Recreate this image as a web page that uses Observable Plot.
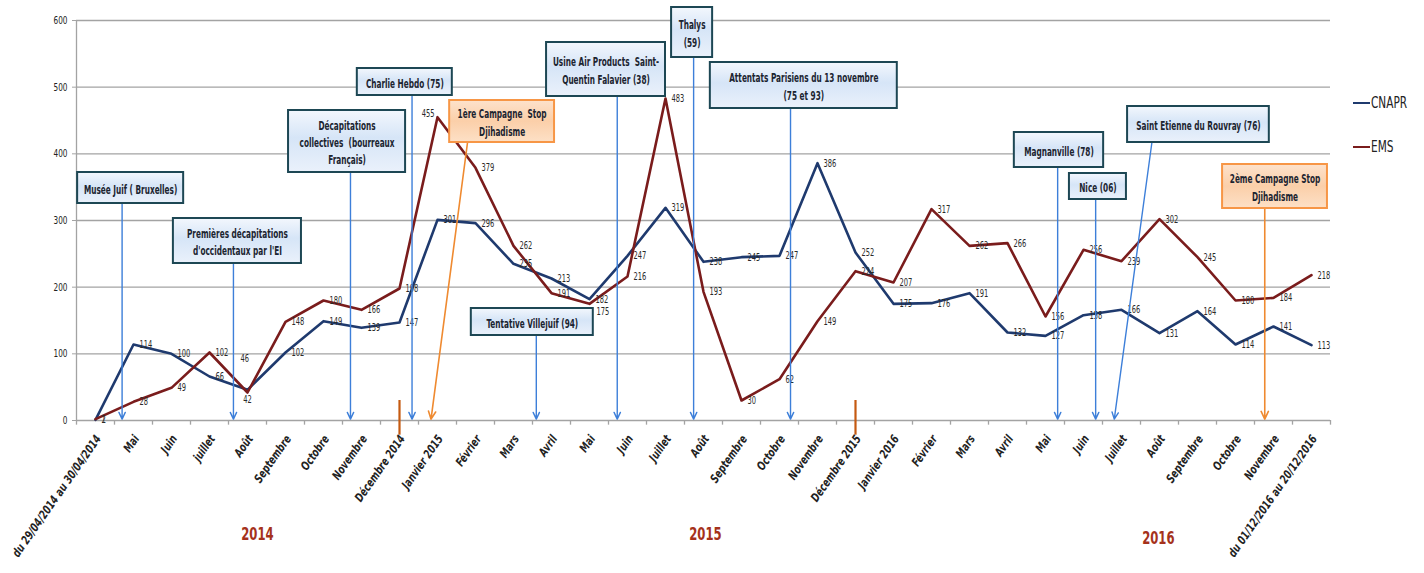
<!DOCTYPE html>
<html><head><meta charset="utf-8">
<script src="https://cdn.jsdelivr.net/npm/d3@7"></script>
<script src="https://cdn.jsdelivr.net/npm/@observablehq/plot@0.6"></script>
<style>
body{margin:0;background:#fff;}
#wrap{position:relative;width:1424px;height:573px;overflow:hidden;}
.lg{position:absolute;left:1353px;font-family:"Liberation Sans Narrow","DejaVu Sans Condensed","Arial Narrow",sans-serif;font-size:15px;color:#222;display:flex;align-items:center;}
.lg i{display:inline-block;width:17px;height:2.5px;margin-right:1px;}
.lg span{display:inline-block;transform:scaleX(0.78);transform-origin:left center;}
</style></head><body><div id="wrap"></div>
<script>
const categories = ["du 29/04/2014 au 30/04/2014","Mai","Juin","juillet","Août","Septembre","Octobre","Novembre","Décembre 2014","Janvier 2015","Février","Mars","Avril","Mai","Juin","Juillet","Août","Septembre","Octobre","Novembre","Décembre 2015","Janvier 2016","Février","Mars","Avril","Mai","Juin","Juillet","Août","Septembre","Octobre","Novembre","du 01/12/2016 au 20/12/2016"];
const cnapr = [1,114,100,66,46,102,149,139,147,301,296,235,213,182,247,319,238,245,247,386,252,175,176,191,132,127,158,166,131,164,114,141,113];
const ems   = [2,28,49,102,42,148,180,166,198,455,379,262,191,175,216,483,193,30,62,149,224,207,317,262,266,156,256,239,302,245,180,184,218];
const seriesNames = ["CNAPR","EMS"];
const seriesColors = ["#1f3a6e","#7a1c1c"];
const yTicks = [0,100,200,300,400,500,600];
const years = ["2014","2015","2016"];
const yearAt = [4.26,16.05,27.97];
const yearLevel = [-170,-170,-176];
const yearBreaks = [8,20];

// événements annotés
const eventLabels = [
 "Musée Juif ( Bruxelles)",
 "Premières décapitations\nd'occidentaux par l'EI",
 "Décapitations\ncollectives  (bourreaux\nFrançais)",
 "Charlie Hebdo (75)",
 "1ère Campagne  Stop\nDjihadisme",
 "Tentative Villejuif (94)",
 "Usine Air Products  Saint-\nQuentin Falavier (38)",
 "Thalys\n(59)",
 "Attentats Parisiens du 13 novembre\n(75 et 93)",
 "Magnanville (78)",
 "Nice (06)",
 "Saint Etienne du Rouvray (76)",
 "2ème Campagne Stop\nDjihadisme"
];
const eventKind = ["attack","attack","attack","attack","campaign","attack","attack","attack","attack","attack","attack","attack","campaign"];
const eventWhen = [0.7,3.63,6.71,8.33,8.83,11.6,13.73,15.74,18.29,25.32,26.32,26.81,30.77];
const arrowFrom = [0.7,3.63,6.71,8.33,9.79,11.6,13.73,15.74,18.29,25.32,26.32,27.8,30.77];
const boxLeft  = [-0.47,2.05,5.08,6.89,9.32,9.89,11.87,15.16,16.18,24.18,25.63,27.16,29.66];
const boxRight = [2.32,5.42,8.16,9.39,12.08,13.1,15.0,16.24,21.1,26.53,27.13,30.89,32.42];
const boxTop    = [372,303,465,528,480,168,567,619.5,537,432,370.5,471,384];
const boxBottom = [325.5,235.5,372,487.5,417,127.5,486,544.5,468,379.5,331.5,417,318];

const FONT = '"Liberation Sans Narrow","DejaVu Sans Condensed","Arial Narrow",sans-serif';

const rows = categories.map((c,i)=>({i, cat:c}));
const long = [];
seriesNames.forEach((s,k)=>{
  const vals = k===0 ? cnapr : ems;
  vals.forEach((v,i)=>long.push({series:s, i, value:v}));
});
const events = eventLabels.map((t,j)=>({
  text:t, kind:eventKind[j], at:eventWhen[j], from:arrowFrom[j],
  x1:boxLeft[j], x2:boxRight[j], top:boxTop[j], bottom:boxBottom[j],
  cx:(boxLeft[j]+boxRight[j])/2, cy:(boxTop[j]+boxBottom[j])/2
}));
const yearRows = years.map((y,j)=>({y, at:yearAt[j], lvl:yearLevel[j]}));

// label nudges (style only)
const nudges = {
  "EMS:9": {dx:-3, dy:-4, anchor:"end"},
  "CNAPR:4": {dx:-7, dy:-31, anchor:"start"},
  "EMS:4": {dx:0, dy:7, anchor:"middle"},
  "EMS:13": {dx:7, dy:8, anchor:"start"}
};
const key = d => d.series+":"+d.i;
const plain = long.filter(d=>!nudges[key(d)]);
const special = long.filter(d=>nudges[key(d)]);

const attacks = events.filter(e=>e.kind==="attack");
const campaigns = events.filter(e=>e.kind==="campaign");

const chart = Plot.plot({
  width:1424, height:573,
  marginLeft:76, marginRight:94, marginTop:20, marginBottom:153,
  x:{type:"linear", domain:[-0.5,32.5], axis:null},
  y:{domain:[0,600], axis:null},
  color:{domain:seriesNames, range:seriesColors},
  style:{fontFamily:FONT, background:"white", overflow:"visible"},
  marks:[
    Plot.ruleY(yTicks, {stroke:"#a3a3a3", strokeWidth:1.3}),
    Plot.ruleX([-0.5], {stroke:"#a3a3a3", strokeWidth:1.3}),
    Plot.axisY({ticks:yTicks, tickSize:4, tickPadding:5, stroke:"#a3a3a3", fontSize:11, color:"#222", label:null, fontFamily:FONT, className:"sqY"}),
    Plot.ruleX(d3.range(-0.5,33,1), {y1:0, y2:-7, stroke:"#a3a3a3", strokeWidth:1.3}),
    Plot.text(rows, {x:"i", y:0, text:"cat", rotate:-55, textAnchor:"end", dx:3, dy:16, fontSize:12, fontWeight:"bold", fontStyle:"italic", fill:"#222", fontFamily:FONT, className:"sqX"}),
    Plot.line(long, {x:"i", y:"value", z:"series", stroke:"series", strokeWidth:2.6}),
    Plot.text(plain, {x:"i", y:"value", text:"value", dx:6, textAnchor:"start", fontSize:11, fill:"#2a2a2a", fontFamily:FONT, className:"sqV"}),
    ...special.map(d=>{const n=nudges[key(d)]; return Plot.text([d], {x:"i", y:"value", text:"value", dx:n.dx, dy:n.dy, textAnchor:n.anchor, fontSize:11, fill:"#2a2a2a", fontFamily:FONT, className:"sqV"});}),
    Plot.ruleX(yearBreaks, {y1:30, y2:-22, stroke:"#c55a11", strokeWidth:2.2}),
    Plot.text(yearRows, {x:"at", y:"lvl", text:"y", fontSize:18, fontWeight:"bold", fill:"#a5321b", fontFamily:FONT, className:"sqYr"}),
    Plot.arrow(attacks, {x1:"from", y1:"bottom", x2:"at", y2:2, stroke:"#3d7fd9", strokeWidth:1.4, headLength:8, headAngle:50}),
    Plot.arrow(campaigns, {x1:"from", y1:"bottom", x2:"at", y2:2, stroke:"#ef8a30", strokeWidth:1.6, headLength:8, headAngle:50}),
    Plot.rect(attacks, {x1:"x1", x2:"x2", y1:"bottom", y2:"top", fill:"url(#gBlue)", stroke:"#1d4754", strokeWidth:2}),
    Plot.rect(campaigns, {x1:"x1", x2:"x2", y1:"bottom", y2:"top", fill:"url(#gOrange)", stroke:"#f79646", strokeWidth:2}),
    Plot.text(events, {x:"cx", y:"cy", text:"text", fontSize:12, fontWeight:"bold", fill:"#1b2430", lineHeight:1.45, fontFamily:FONT, className:"sqB"})
  ]
});

const svg = d3.select(chart);
// emulate the narrow typeface of the original by horizontal compression around each text's anchor
const squeeze = (sel, f) => svg.selectAll(sel).each(function(){
  const t = this.getAttribute("transform");
  if (t) this.setAttribute("transform", t + " scale(" + f + ",1)");
});
if (svg.select(".sqX").size() > 0) {
  squeeze(".sqY text", 0.74);
  squeeze(".sqX text", 0.82);
  squeeze(".sqV text", 0.68);
  squeeze(".sqYr text", 0.72);
  squeeze(".sqB text", 0.68);
} else {
  squeeze("text", 0.74);
}
const defs = svg.insert("defs", ":first-child");
const gb = defs.append("linearGradient").attr("id","gBlue").attr("x1",0).attr("y1",0).attr("x2",0).attr("y2",1);
gb.append("stop").attr("offset","0%").attr("stop-color","#f3f7fd");
gb.append("stop").attr("offset","45%").attr("stop-color","#d6e5f7");
gb.append("stop").attr("offset","100%").attr("stop-color","#eaf1fb");
const go = defs.append("linearGradient").attr("id","gOrange").attr("x1",0).attr("y1",0).attr("x2",0).attr("y2",1);
go.append("stop").attr("offset","0%").attr("stop-color","#fde2cc");
go.append("stop").attr("offset","50%").attr("stop-color","#fbcfa9");
go.append("stop").attr("offset","100%").attr("stop-color","#fde0c6");

const wrap = document.getElementById("wrap");
wrap.appendChild(chart);
seriesNames.forEach((s,k)=>{
  const d = document.createElement("div");
  d.className = "lg";
  d.style.top = (k===0 ? 94 : 138) + "px";
  d.innerHTML = '<i style="background:'+seriesColors[k]+'"></i><span>'+s+'</span>';
  wrap.appendChild(d);
});
</script></body></html>
